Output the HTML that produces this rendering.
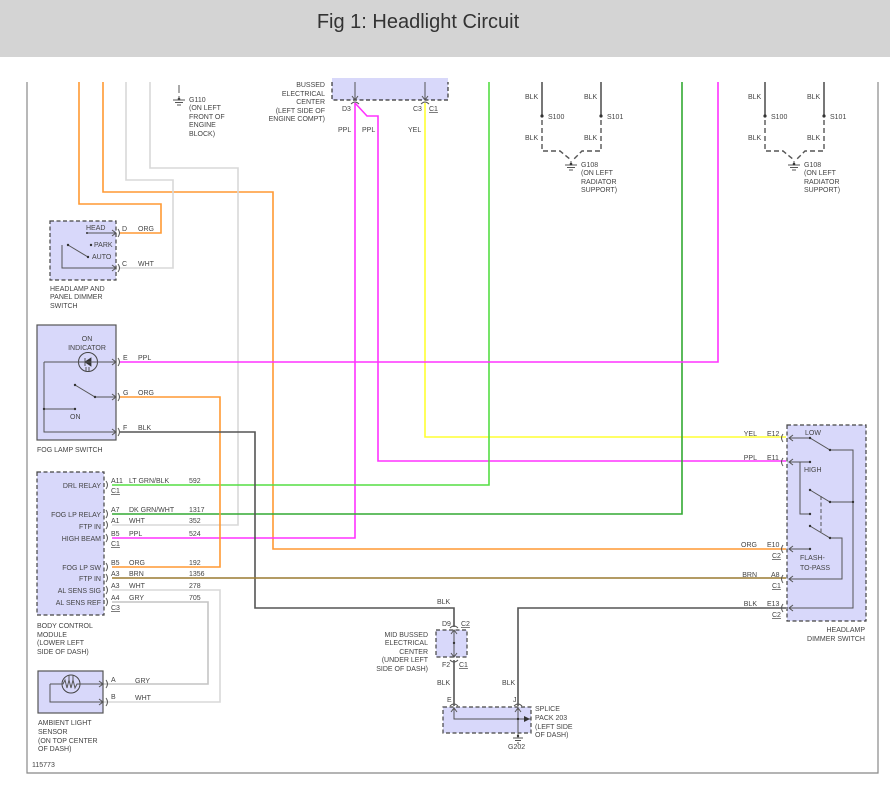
<!DOCTYPE html>
<html><head><meta charset="utf-8"><style>
html,body{margin:0;padding:0;background:#fff;}
svg{display:block;}
text{font-family:"Liberation Sans",Arial,sans-serif;font-size:7px;fill:#444;}
.t{font-size:20px;fill:#333;}
.r{text-anchor:end;}
.w{fill:none;stroke-width:1.6;}
.k{fill:none;stroke:#555;stroke-width:1;}
.box{fill:#d8d8fa;stroke:#444;stroke-width:1.2;stroke-dasharray:4,2.5;}
.sbox{fill:#d8d8fa;stroke:#555;stroke-width:1.2;}
</style></head><body>
<svg width="890" height="793" viewBox="0 0 890 793" xmlns="http://www.w3.org/2000/svg">
<rect x="0" y="0" width="890" height="57" fill="#d4d4d4"/>
<text class="t" x="418" y="28" text-anchor="middle">Fig 1: Headlight Circuit</text>

<!-- frame -->
<path d="M27 82 V773 H878 V82" fill="none" stroke="#888" stroke-width="1.2"/>

<!-- top left wires -->
<path class="w" stroke="#ff9933" d="M79 82 V204 H161 V233 H120"/>
<path class="w" stroke="#ff9933" d="M103 82 V192 H273 V549 H786"/>
<path class="w" stroke="#d8d8d8" d="M126 82 V180 H173 V268 H120"/>
<path class="w" stroke="#d8d8d8" d="M150 82 V168 H238 V525 H112"/>

<!-- G110 -->
<path class="k" d="M179 85 V93 M179 96 V100 M173 100 H185 M175 102.5 H183 M177 105 H181"/>
<circle cx="179" cy="99" r="1.3" fill="#444"/>
<text x="189" y="102">G110</text><text x="189" y="110">(ON LEFT</text><text x="189" y="119">FRONT OF</text><text x="189" y="127">ENGINE</text><text x="189" y="136">BLOCK)</text>

<!-- Bussed electrical center -->
<rect x="332" y="78" width="116" height="22" fill="#d8d8fa"/>
<path d="M332 82 V100 H448 V82" fill="none" stroke="#333" stroke-width="1.2" stroke-dasharray="4,2.5"/>
<path class="k" d="M355 82 V100 M352 96 L355 100 L358 96 M425 82 V100 M422 96 L425 100 L428 96"/>
<path class="k" d="M351 104 Q355 100 359 104 M421 104 Q425 100 429 104"/>
<text class="r" x="325" y="87">BUSSED</text><text class="r" x="325" y="96">ELECTRICAL</text><text class="r" x="325" y="104">CENTER</text><text class="r" x="325" y="113">(LEFT SIDE OF</text><text class="r" x="325" y="121">ENGINE COMPT)</text>
<text x="342" y="111">D3</text><text x="413" y="111">C3</text><text x="429" y="111" text-decoration="underline">C1</text>
<text x="338" y="132">PPL</text><text x="362" y="132">PPL</text><text x="408" y="132">YEL</text>
<path class="w" stroke="#ff33ff" d="M355 103 V538 H112"/>
<path class="w" stroke="#ff33ff" d="M355 103 L367 116 H378 V461 H786"/>
<path class="w" stroke="#ffff33" d="M425 103 V437 H786"/>

<!-- long verticals -->
<path class="w" stroke="#55dd44" d="M489 82 V485 H112"/>
<path class="w" stroke="#33aa33" d="M682 82 V514 H112"/>
<path class="w" stroke="#ff33ff" d="M718 82 V362 H120"/>

<!-- G108 groups -->
<g id="g108">
<path d="M542 82 V116" stroke="#555" stroke-width="1.6"/>
<path d="M601 82 V116" stroke="#555" stroke-width="1.6"/>
<circle cx="542" cy="116" r="1.6" fill="#333"/><circle cx="601" cy="116" r="1.6" fill="#333"/>
<path d="M542 120 V151 H560 L571 160 M601 120 V151 H582 L573 160" fill="none" stroke="#555" stroke-width="1.4" stroke-dasharray="5,3"/>
<path class="k" d="M571 161 V165 M565 165 H577 M567 167.5 H575 M569 170 H573"/>
<circle cx="571" cy="164" r="1.3" fill="#333"/>
<text x="525" y="99">BLK</text><text x="584" y="99">BLK</text>
<text x="548" y="119">S100</text><text x="607" y="119">S101</text>
<text x="525" y="140">BLK</text><text x="584" y="140">BLK</text>
<text x="581" y="167">G108</text><text x="581" y="175">(ON LEFT</text><text x="581" y="184">RADIATOR</text><text x="581" y="192">SUPPORT)</text>
</g>
<use href="#g108" transform="translate(223,0)"/>

<!-- Headlamp & panel dimmer switch -->
<rect class="box" x="50" y="221" width="66" height="59"/>
<path class="k" d="M87 233 H116 M112 230 L116 233 L112 236 M62 245 V268 H116 M112 265 L116 268 L112 271 M68 245 L88 257"/>
<circle cx="87" cy="233" r="1" fill="#333"/><circle cx="91" cy="245" r="1.2" fill="#333"/><circle cx="88" cy="257" r="1.2" fill="#333"/><circle cx="68" cy="245" r="1.2" fill="#333"/>
<path class="k" d="M118 229 Q121 233 118 237 M118 264 Q121 268 118 272"/>
<text x="86" y="230">HEAD</text><text x="94" y="247">PARK</text><text x="92" y="259">AUTO</text>
<text x="122" y="231">D</text><text x="138" y="231">ORG</text><text x="122" y="266">C</text><text x="138" y="266">WHT</text>
<text x="50" y="291">HEADLAMP AND</text><text x="50" y="299">PANEL DIMMER</text><text x="50" y="308">SWITCH</text>

<!-- Fog lamp switch -->
<rect class="sbox" x="37" y="325" width="79" height="115"/>
<text x="87" y="341" text-anchor="middle">ON</text><text x="87" y="350" text-anchor="middle">INDICATOR</text>
<circle cx="88" cy="362" r="9.5" fill="none" stroke="#444" stroke-width="1"/>
<path d="M85 358 V366 M85 362 L91 358 V366 Z" fill="#333" stroke="#333" stroke-width="0.8"/>
<path class="k" d="M86 367 V371 M89 367 V371"/>
<path class="k" d="M44 362 H116 M112 359 L116 362 L112 365 M44 362 V432 H116 M112 429 L116 432 L112 435 M44 409 H75 M75 385 L95 397 H116 M112 394 L116 397 L112 400"/>
<circle cx="44" cy="409" r="1.2" fill="#333"/><circle cx="75" cy="409" r="1.2" fill="#333"/><circle cx="75" cy="385" r="1.2" fill="#333"/><circle cx="95" cy="397" r="1.2" fill="#333"/>
<text x="70" y="419">ON</text>
<path class="k" d="M118 358 Q121 362 118 366 M118 393 Q121 397 118 401 M118 428 Q121 432 118 436"/>
<text x="123" y="360">E</text><text x="138" y="360">PPL</text>
<text x="123" y="395">G</text><text x="138" y="395">ORG</text>
<text x="123" y="430">F</text><text x="138" y="430">BLK</text>
<text x="37" y="452">FOG LAMP SWITCH</text>
<path class="w" stroke="#ff9933" d="M120 397 H220 V567 H112"/>
<path class="w" stroke="#555" d="M120 432 H255 V608 H454 V627"/>

<!-- BCM -->
<rect class="box" x="37" y="472" width="67" height="143"/>
<g class="r">
<text class="r" x="101" y="488">DRL RELAY</text>
<text class="r" x="101" y="517">FOG LP RELAY</text>
<text class="r" x="101" y="529">FTP IN</text>
<text class="r" x="101" y="541">HIGH BEAM</text>
<text class="r" x="101" y="570">FOG LP SW</text>
<text class="r" x="101" y="581">FTP IN</text>
<text class="r" x="101" y="593">AL SENS SIG</text>
<text class="r" x="101" y="605">AL SENS REF</text>
</g>
<path class="k" d="M106 481 Q109 485 106 489 M106 510 Q109 514 106 518 M106 521 Q109 525 106 529 M106 534 Q109 538 106 542 M106 563 Q109 567 106 571 M106 574 Q109 578 106 582 M106 586 Q109 590 106 594 M106 598 Q109 602 106 606"/>
<text x="111" y="483">A11</text><text x="129" y="483">LT GRN/BLK</text><text x="189" y="483">592</text><text x="111" y="493" text-decoration="underline">C1</text>
<text x="111" y="512">A7</text><text x="129" y="512">DK GRN/WHT</text><text x="189" y="512">1317</text>
<text x="111" y="523">A1</text><text x="129" y="523">WHT</text><text x="189" y="523">352</text>
<text x="111" y="536">B5</text><text x="129" y="536">PPL</text><text x="189" y="536">524</text><text x="111" y="546" text-decoration="underline">C1</text>
<text x="111" y="565">B5</text><text x="129" y="565">ORG</text><text x="189" y="565">192</text>
<text x="111" y="576">A3</text><text x="129" y="576">BRN</text><text x="189" y="576">1356</text>
<text x="111" y="588">A3</text><text x="129" y="588">WHT</text><text x="189" y="588">278</text>
<text x="111" y="600">A4</text><text x="129" y="600">GRY</text><text x="189" y="600">705</text><text x="111" y="610" text-decoration="underline">C3</text>
<path class="w" stroke="#9a7a30" d="M112 578 H786"/>
<path class="w" stroke="#d8d8d8" d="M112 590 H220 V702 H100"/>
<path class="w" stroke="#c4c4c4" d="M112 602 H208 V684 H100"/>
<text x="37" y="628">BODY CONTROL</text><text x="37" y="637">MODULE</text><text x="37" y="645">(LOWER LEFT</text><text x="37" y="654">SIDE OF DASH)</text>

<!-- Ambient light sensor -->
<rect class="sbox" x="38" y="671" width="65" height="42"/>
<circle cx="71" cy="684" r="9" fill="none" stroke="#444" stroke-width="1"/>
<path class="k" d="M50 684 H63 L65 680 L67 688 L69 680 L71 688 L73 680 L75 688 L77 684 H103 M99 681 L103 684 L99 687 M50 684 V702 H103 M99 699 L103 702 L99 705 M69 675 V680 M73 675 V680"/>
<path class="k" d="M106 680 Q109 684 106 688 M106 698 Q109 702 106 706"/>
<text x="111" y="682">A</text><text x="135" y="683">GRY</text>
<text x="111" y="699">B</text><text x="135" y="700">WHT</text>
<text x="38" y="725">AMBIENT LIGHT</text><text x="38" y="734">SENSOR</text><text x="38" y="743">(ON TOP CENTER</text><text x="38" y="751">OF DASH)</text>
<text x="32" y="767">115773</text>

<!-- Mid bussed -->
<rect class="box" x="436" y="630" width="31" height="27"/>
<path class="k" d="M454 630 V657 M451 634 L454 630 L457 634 M451 653 L454 657 L457 653"/>
<circle cx="454" cy="643" r="1.2" fill="#333"/>
<path class="k" d="M450 628 Q454 624 458 628 M450 660 Q454 664 458 660"/>
<path class="w" stroke="#555" d="M454 660 V706"/>
<text x="437" y="604">BLK</text><text x="442" y="626">D9</text><text x="461" y="626" text-decoration="underline">C2</text>
<text class="r" x="428" y="637">MID BUSSED</text><text class="r" x="428" y="645">ELECTRICAL</text><text class="r" x="428" y="654">CENTER</text><text class="r" x="428" y="662">(UNDER LEFT</text><text class="r" x="428" y="671">SIDE OF DASH)</text>
<text x="442" y="667">F2</text><text x="459" y="667" text-decoration="underline">C1</text>
<text x="437" y="685">BLK</text><text x="502" y="685">BLK</text>
<text x="447" y="702">E</text><text x="513" y="702">J</text>

<!-- Splice pack -->
<path class="w" stroke="#555" d="M518 706 V608 H786"/>
<rect class="box" x="443" y="707" width="88" height="26"/>
<path class="k" d="M450 706 Q454 702 458 706 M514 706 Q518 702 522 706"/>
<path class="k" d="M454 709 V719 H531 M451 712 L454 708 L457 712 M518 709 V738 M515 712 L518 708 L521 712 M513 738 H523 M515 740.5 H521 M517 743 H519"/>
<path d="M524 716 L530 719 L524 722 Z" fill="#333"/>
<circle cx="518" cy="719" r="1.2" fill="#333"/><circle cx="518" cy="736" r="1.2" fill="#333"/>
<text x="535" y="711">SPLICE</text><text x="535" y="720">PACK 203</text><text x="535" y="729">(LEFT SIDE</text><text x="535" y="737">OF DASH)</text>
<text x="508" y="749">G202</text>

<!-- Headlamp dimmer switch -->
<rect class="box" x="787" y="425" width="79" height="196"/>
<path class="k" d="M783 434 Q780 438 783 442 M783 458 Q780 462 783 466 M783 545 Q780 549 783 553 M783 575 Q780 579 783 583 M783 604 Q780 608 783 612"/>
<path class="k" d="M789 438 H810 L830 450 H853 V608 H789 M793 435 L789 438 L793 441"/>
<path class="k" d="M789 462 H810 M800 462 V514 H810 M793 459 L789 462 L793 465"/>
<path class="k" d="M810 490 L830 502 H853 M810 526 L830 538 H842 V579 H789 M793 576 L789 579 L793 582 M789 549 H810 M793 546 L789 549 L793 552 M793 605 L789 608 L793 611"/>
<path class="k" d="M821 496 V532" stroke-dasharray="4,2.5"/>
<g fill="#333"><circle cx="810" cy="438" r="1.2"/><circle cx="830" cy="450" r="1.2"/><circle cx="810" cy="462" r="1.2"/><circle cx="810" cy="514" r="1.2"/><circle cx="810" cy="490" r="1.2"/><circle cx="830" cy="502" r="1.2"/><circle cx="853" cy="502" r="1.2"/><circle cx="810" cy="526" r="1.2"/><circle cx="830" cy="538" r="1.2"/><circle cx="810" cy="549" r="1.2"/></g>
<text x="805" y="435">LOW</text><text x="804" y="472">HIGH</text><text x="800" y="560">FLASH-</text><text x="800" y="570">TO-PASS</text>
<text class="r" x="757" y="436">YEL</text><text x="767" y="436">E12</text>
<text class="r" x="757" y="460">PPL</text><text x="767" y="460">E11</text>
<text class="r" x="757" y="547">ORG</text><text x="767" y="547">E10</text><text x="772" y="558" text-decoration="underline">C2</text>
<text class="r" x="757" y="577">BRN</text><text x="771" y="577">A8</text><text x="772" y="588" text-decoration="underline">C1</text>
<text class="r" x="757" y="606">BLK</text><text x="767" y="606">E13</text><text x="772" y="617" text-decoration="underline">C2</text>
<text class="r" x="865" y="632">HEADLAMP</text><text class="r" x="865" y="641">DIMMER SWITCH</text>
</svg>
</body></html>
